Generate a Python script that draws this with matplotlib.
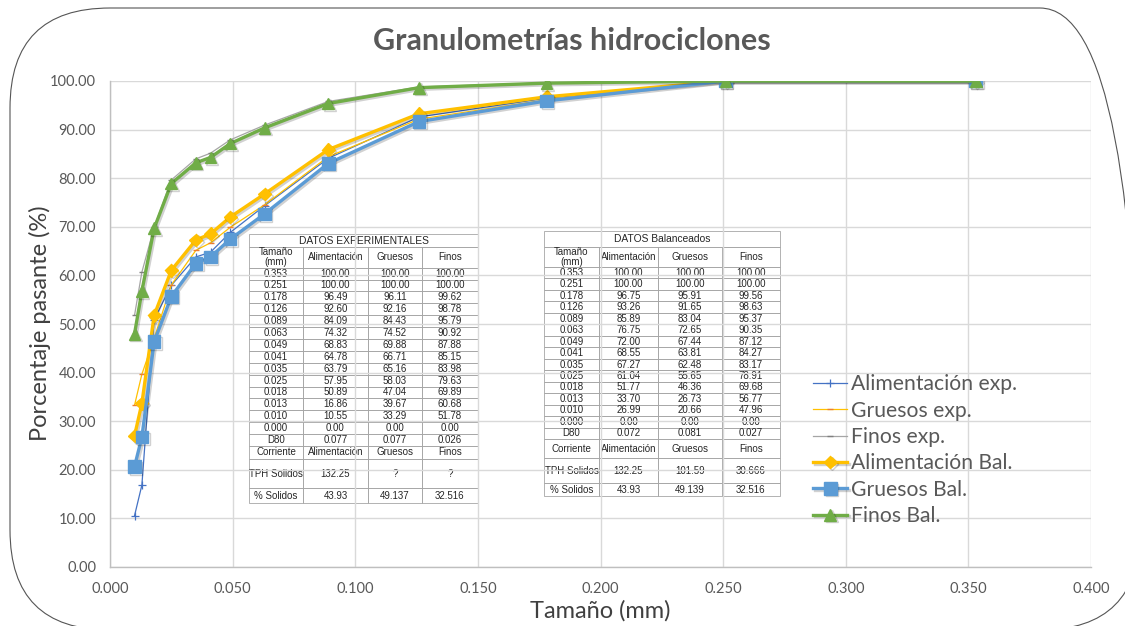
import matplotlib
matplotlib.use("Agg")
import matplotlib.pyplot as plt
import matplotlib.patches as mpatches
from matplotlib.table import Table
from matplotlib.transforms import IdentityTransform
import matplotlib.patheffects as pe

# ---------------- data ----------------
sizes = [0.353, 0.251, 0.178, 0.126, 0.089, 0.063, 0.049, 0.041, 0.035, 0.025, 0.018, 0.013, 0.010]

alim_exp = [100.00, 100.00, 96.49, 92.60, 84.09, 74.32, 68.83, 64.78, 63.79, 57.95, 50.89, 16.86, 10.55]
grue_exp = [100.00, 100.00, 96.11, 92.16, 84.43, 74.52, 69.88, 66.71, 65.16, 58.03, 47.04, 39.67, 33.29]
finos_exp = [100.00, 100.00, 99.62, 98.78, 95.79, 90.92, 87.88, 85.15, 83.98, 79.63, 69.89, 60.68, 51.78]

alim_bal = [100.00, 100.00, 96.75, 93.26, 85.89, 76.75, 72.00, 68.55, 67.27, 61.04, 51.77, 33.70, 26.99]
grue_bal = [100.00, 100.00, 95.91, 91.65, 83.04, 72.65, 67.44, 63.81, 62.48, 55.65, 46.36, 26.73, 20.66]
finos_bal = [100.00, 100.00, 99.56, 98.63, 95.37, 90.35, 87.12, 84.27, 83.17, 78.91, 69.68, 56.77, 47.96]

d80_exp = ["0.077", "0.077", "0.026"]
tph_exp = ["132.25", "?", "?"]
sol_exp = ["43.93", "49.137", "32.516"]

d80_bal = ["0.072", "0.081", "0.027"]
tph_bal = ["132.25", "101.59", "30.666"]
sol_bal = ["43.93", "49.139", "32.516"]

col_headers = ["Tamaño\n(mm)", "Alimentación", "Gruesos", "Finos"]
stream_names = ["Alimentación", "Gruesos", "Finos"]

x_ticks = [0.0, 0.05, 0.10, 0.15, 0.20, 0.25, 0.30, 0.35, 0.40]
y_ticks = [0, 10, 20, 30, 40, 50, 60, 70, 80, 90, 100]

# ---------------- figure ----------------
W, H = 1125, 626
fig = plt.figure(figsize=(W / 100, H / 100), dpi=100)

AX_L, AX_R, AX_T, AX_B = 110, 1091, 81, 567
ax = fig.add_axes([AX_L / W, 1 - AX_B / H, (AX_R - AX_L) / W, (AX_B - AX_T) / H])

# rounded outer border (extends past right and bottom edges as in the reference)
border = mpatches.FancyBboxPatch((10, -4), 1130, 622,
                                 boxstyle="round,pad=0,rounding_size=100",
                                 transform=IdentityTransform(),
                                 facecolor="none", edgecolor="#555555", linewidth=0.8, zorder=0)
fig.add_artist(border)

txt_col = "#595959"
font = "Lato"

shadow = [pe.SimpleLineShadow(offset=(1.2, -1.2), alpha=0.18), pe.Normal()]

ax.plot(sizes, alim_exp, color="#4472C4", lw=0.9, marker="+", ms=6, mew=0.9,
        label="Alimentación exp.", zorder=3)
ax.plot(sizes, grue_exp, color="#FFC000", lw=0.9, marker="_", ms=4, mew=1.0, mec="#ED7D31",
        label="Gruesos exp.", zorder=3)
ax.plot(sizes, finos_exp, color="#A5A5A5", lw=0.9, marker="_", ms=5, mew=1.0, mec="#7F7F7F",
        label="Finos exp.", zorder=3)
ax.plot(sizes, alim_bal, color="#FFC000", lw=2.4, marker="D", ms=6.5,
        label="Alimentación Bal.", zorder=4, path_effects=shadow)
ax.plot(sizes, grue_bal, color="#5B9BD5", lw=2.4, marker="s", ms=9,
        label="Gruesos Bal.", zorder=4, path_effects=shadow)
ax.plot(sizes, finos_bal, color="#70AD47", lw=2.4, marker="^", ms=8.5,
        label="Finos Bal.", zorder=4, path_effects=shadow)

ax.set_xlim(0, 0.4)
ax.set_ylim(0, 100)
ax.set_xticks(x_ticks)
ax.set_yticks(y_ticks)
ax.set_xticklabels([f"{v:.3f}" for v in x_ticks])
ax.set_yticklabels([f"{v:.2f}" for v in y_ticks])
ax.grid(True, color="#D9D9D9", lw=1.0, zorder=0)
ax.set_axisbelow(True)
for s in ["top", "right"]:
    ax.spines[s].set_visible(False)
for s in ["left", "bottom"]:
    ax.spines[s].set_color("#BFBFBF")
    ax.spines[s].set_linewidth(1.0)
ax.tick_params(axis="y", length=0, pad=10, labelsize=10.5, labelcolor=txt_col)
ax.tick_params(axis="x", length=0, pad=11, labelsize=10.5, labelcolor=txt_col)
for lab in ax.get_xticklabels() + ax.get_yticklabels():
    lab.set_fontfamily(font)

ax.set_xlabel("Tamaño (mm)", fontsize=17, color="#404040", family=font)
ax.set_ylabel("Porcentaje pasante (%)", fontsize=17, color="#404040", family=font)
ax.xaxis.set_label_coords((600 - AX_L) / (AX_R - AX_L), (AX_B - 611) / (AX_B - AX_T))
ax.yaxis.set_label_coords((40 - AX_L) / (AX_R - AX_L), (AX_B - 323) / (AX_B - AX_T))
ax.xaxis.label.set_va("center")
ax.yaxis.label.set_va("center")

fig.text(572 / W, 1 - 41 / H, "Granulometrías hidrociclones", ha="center", va="center",
         fontsize=22, fontweight="bold", color=txt_col, family=font)

leg = ax.legend(loc="upper left", bbox_to_anchor=(805 / W, 1 - 366 / H),
                bbox_transform=fig.transFigure, frameon=False, fontsize=15.2,
                handlelength=1.6, handletextpad=0.2, labelspacing=0.3, borderaxespad=0)
for t in leg.get_texts():
    t.set_color(txt_col)
    t.set_fontfamily(font)


# ---------------- tables ----------------
def fx(px):
    return (px - AX_L) / (AX_R - AX_L)


def fy(py):
    return (AX_B - py) / (AX_B - AX_T)


def draw_table(x_cols, y_title, y_rows, title, rows, row_h):
    edge = "#A6A6A6"
    fs = 7.0
    tt = Table(ax, bbox=[fx(x_cols[0]), fy(y_title[1]), fx(x_cols[-1]) - fx(x_cols[0]),
                         fy(y_title[0]) - fy(y_title[1])])
    c = tt.add_cell(0, 0, width=1, height=1, text=title, loc="center",
                    facecolor="none", edgecolor=edge)
    c.set_linewidth(0.6)
    c.get_text().set_fontsize(7.4)
    c.get_text().set_color("#262626")
    c.get_text().set_fontfamily("Liberation Sans")
    tt.auto_set_font_size(False)
    ax.add_table(tt)
    bt = Table(ax, bbox=[fx(x_cols[0]), fy(y_rows[1]), fx(x_cols[-1]) - fx(x_cols[0]),
                         fy(y_rows[0]) - fy(y_rows[1])])
    widths = [x_cols[i + 1] - x_cols[i] for i in range(4)]
    for i, row in enumerate(rows):
        for j, val in enumerate(row):
            c = bt.add_cell(i, j, width=widths[j], height=row_h[i], text=val, loc="center",
                            facecolor="none", edgecolor=edge)
            c.set_linewidth(0.6)
            c.get_text().set_fontsize(fs)
            c.get_text().set_color("#262626")
            c.get_text().set_fontfamily("Liberation Sans")
            c.get_text().set_linespacing(1.0)
    bt.auto_set_font_size(False)
    ax.add_table(bt)


def build_rows(a, g, f, d80, tph, sol):
    rows = [col_headers]
    for k in range(len(sizes)):
        rows.append([f"{sizes[k]:.3f}", f"{a[k]:.2f}", f"{g[k]:.2f}", f"{f[k]:.2f}"])
    rows.append([f"{0.0:.3f}", f"{0.0:.2f}", f"{0.0:.2f}", f"{0.0:.2f}"])
    rows.append(["D80"] + d80)
    rows.append(["Corriente"] + stream_names)
    rows.append(["TPH Solidos"] + tph)
    rows.append(["% Solidos"] + sol)
    return rows


rows_exp = build_rows(alim_exp, grue_exp, finos_exp, d80_exp, tph_exp, sol_exp)
rows_bal = build_rows(alim_bal, grue_bal, finos_bal, d80_bal, tph_bal, sol_bal)

rh_exp = [21] + [12.1] * 15 + [13, 30, 15]
rh_bal = [20] + [11.5] * 15 + [19, 25, 13]

draw_table([249, 303, 368, 422, 478], (234, 247), (247, 503), "DATOS EXPERIMENTALES", rows_exp, rh_exp)
draw_table([544, 599, 658, 722, 780], (231, 247), (247, 496), "DATOS Balanceados", rows_bal, rh_bal)

fig.savefig("out.png", dpi=100)
